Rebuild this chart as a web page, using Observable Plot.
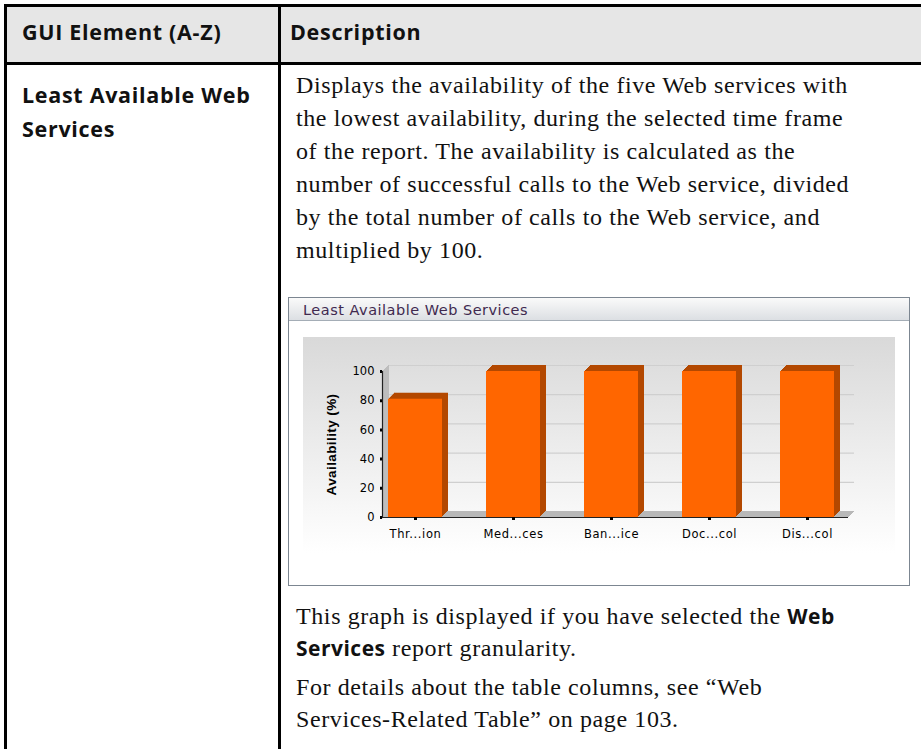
<!DOCTYPE html>
<html><head><meta charset="utf-8">
<script src="https://cdn.jsdelivr.net/npm/d3@7"></script>
<script src="https://cdn.jsdelivr.net/npm/@observablehq/plot@0.6"></script>
<style>
html,body{margin:0;padding:0;background:#fff;}
body{width:921px;height:749px;overflow:hidden;position:relative;}
.a{position:absolute;white-space:nowrap;}
.sans{font-family:"Open Sans",sans-serif;font-weight:700;font-size:21.5px;letter-spacing:0.7px;line-height:34px;color:#111;}
.serif{font-family:"Liberation Serif",serif;font-size:24px;letter-spacing:0.6px;line-height:33px;color:#111;}
.serif b{font-family:"Open Sans",sans-serif;font-weight:700;font-size:21px;letter-spacing:0.5px;}
#hdrbg{left:5px;top:4px;width:930px;height:60px;background:#e6e6e6;}
#topb{left:4px;top:4px;width:930px;height:2.5px;background:#000;}
#hdrb{left:4px;top:62px;width:930px;height:3px;background:#000;}
#leftb{left:4px;top:4px;width:2.5px;height:760px;background:#000;}
#divb{left:278px;top:4px;width:2.5px;height:760px;background:#000;}
#panel{left:288px;top:296.5px;width:620px;height:287px;border:1.5px solid #7c8691;background:#fff;}
#tbar{left:0;top:0;width:620px;height:22px;background:linear-gradient(#fafafa,#dcdfe3);border-bottom:1px solid #a4adb6;}
#ttl{left:14px;top:0;line-height:24px;font-family:"DejaVu Sans",sans-serif;font-size:14.5px;letter-spacing:0.5px;color:#40294f;}
#chart{left:303px;top:337px;}
#chart svg [aria-label="y-axis label"] text{font-family:"Liberation Sans",sans-serif;font-weight:bold;font-size:13.5px;letter-spacing:0.4px;}
#chart svg [aria-label="x-axis tick label"] text{letter-spacing:0.6px;}
</style></head><body>
<div class="a" id="hdrbg"></div>
<div class="a" id="topb"></div>
<div class="a" id="hdrb"></div>
<div class="a" id="leftb"></div>
<div class="a" id="divb"></div>
<div class="a sans" style="left:22px;top:15px;">GUI Element (A-Z)</div>
<div class="a sans" style="left:290px;top:15px;">Description</div>
<div class="a sans" style="left:22px;top:78px;">Least Available Web<br>Services</div>
<div class="a serif" style="left:296px;top:69px;">Displays the availability of the five Web services with<br>the lowest availability, during the selected time frame<br>of the report. The availability is calculated as the<br>number of successful calls to the Web service, divided<br>by the total number of calls to the Web service, and<br>multiplied by 100.</div>
<div class="a" id="panel">
  <div class="a" id="tbar"><div class="a" id="ttl">Least Available Web Services</div></div>
</div>
<div class="a" id="chart"></div>
<div class="a serif" style="left:296px;top:600px;line-height:32px;">This graph is displayed if you have selected the <b>Web</b><br><b>Services</b> report granularity.</div>
<div class="a serif" style="left:296px;top:671px;line-height:32px;">For details about the table columns, see “Web<br>Services-Related Table” on page 103.</div>
<script>
// ---- data ----
const services = ["Thr...ion", "Med...ces", "Ban...ice", "Doc...col", "Dis...col"];
const availability = [81, 100, 100, 100, 100];
const yTicks = [0, 20, 40, 60, 80, 100];
const yLabel = "Availability (%)";

const data = services.map((s, i) => ({service: s, value: availability[i]}));
const depth = 6;
const marks = [];
// back-wall gridlines
marks.push(Plot.ruleY(yTicks.slice(1), {stroke: "#cfcfcf", strokeWidth: 1.2, dx: depth, dy: -depth}));
// floor
for (let i = depth; i >= 1; i--) marks.push(Plot.ruleY([0], {stroke: "#b8b8b8", dx: i, dy: -i}));
// left wall
for (let i = depth; i >= 1; i--) marks.push(Plot.frame({anchor: "left", stroke: "#bdbdbd", dx: i, dy: -i}));
// bars: extruded side/top, then front face
for (let i = depth; i >= 1; i--) marks.push(Plot.barY(data, {x: "service", y: "value", fill: "#b34800", dx: i, dy: -i}));
marks.push(Plot.barY(data, {x: "service", y: "value", fill: "#ff6600"}));
marks.push(Plot.ruleY([0], {stroke: "#222", strokeWidth: 1.2}));
marks.push(Plot.frame({anchor: "left", stroke: "#222", strokeWidth: 1.2}));
marks.push(Plot.axisY({ticks: yTicks, tickSize: 2, tickPadding: 6, strokeWidth: 3, label: yLabel, labelAnchor: "center", labelArrow: false, labelOffset: 56}));
marks.push(Plot.axisX({tickSize: 3, tickPadding: 9, strokeWidth: 3, label: null}));

const chart = Plot.plot({
  width: 592, height: 216,
  marginLeft: 79, marginRight: 47, marginTop: 34, marginBottom: 36,
  x: {domain: services, paddingInner: 0.447, paddingOuter: 0.0965, align: 0.316},
  y: {domain: [0, 100]},
  style: {background: "linear-gradient(#d9d9d9, #ffffff)", fontFamily: "DejaVu Sans, sans-serif", fontSize: "11.5px", color: "#000", overflow: "visible"},
  marks
});
document.getElementById("chart").appendChild(chart);
</script>
</body></html>
